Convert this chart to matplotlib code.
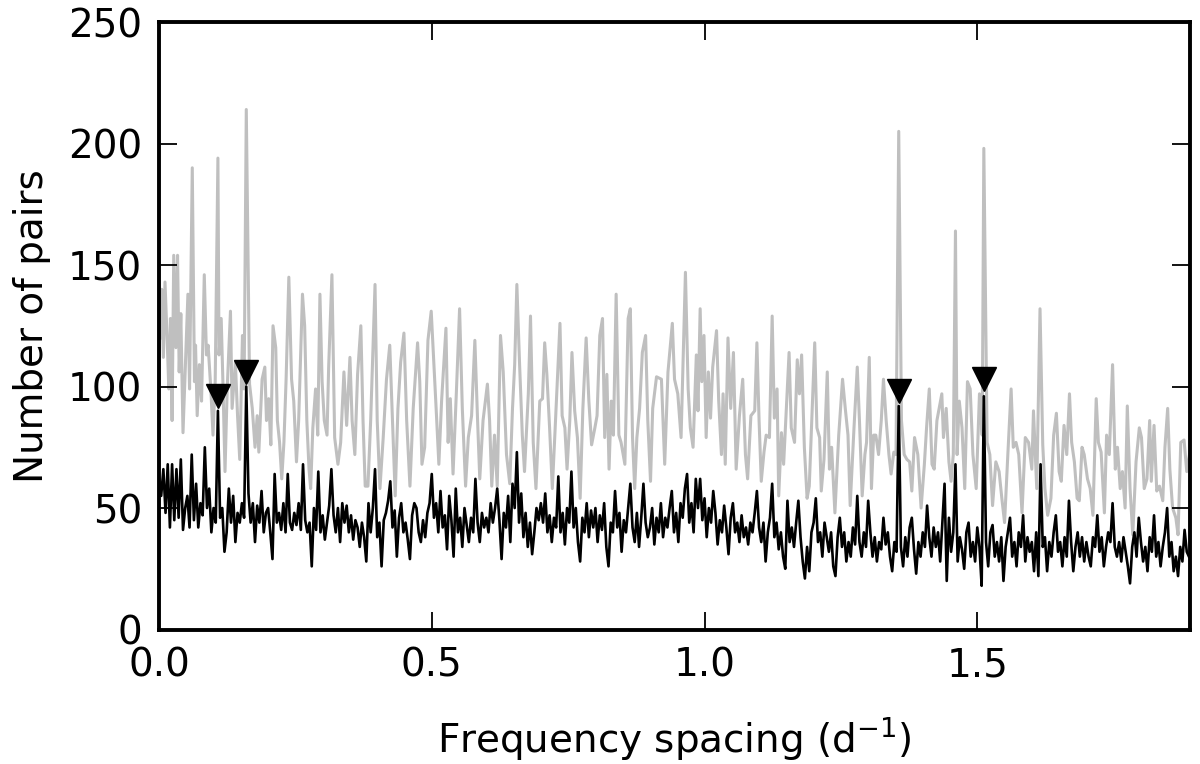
import matplotlib
matplotlib.use('Agg')
import matplotlib.pyplot as plt
import numpy as np

# ---------------- data ----------------
gray_x = [0.002, 0.005, 0.008, 0.011, 0.015, 0.018, 0.021, 0.024, 0.027, 0.031, 0.034, 0.037, 0.040, 0.044, 0.049,
          0.053, 0.056, 0.061, 0.065, 0.067, 0.070, 0.074, 0.078, 0.083, 0.087, 0.090, 0.095, 0.099, 0.103, 0.108,
          0.110, 0.114, 0.117, 0.121, 0.125, 0.131, 0.134, 0.140, 0.144, 0.148, 0.153, 0.156, 0.160, 0.166, 0.171,
          0.176, 0.180, 0.183, 0.189, 0.194, 0.197, 0.201, 0.205, 0.209, 0.214, 0.217, 0.221, 0.225, 0.229, 0.233,
          0.238, 0.243, 0.247, 0.252, 0.256, 0.263, 0.267, 0.271, 0.275, 0.278, 0.282, 0.287, 0.291, 0.295, 0.299,
          0.303, 0.308, 0.311, 0.317,
          0.322, 0.328, 0.333, 0.339, 0.344, 0.350, 0.354, 0.359, 0.364, 0.370, 0.374, 0.378, 0.383, 0.388, 0.396,
          0.400, 0.405, 0.411, 0.417, 0.423, 0.427, 0.433, 0.438, 0.443, 0.449, 0.454, 0.460, 0.466, 0.474, 0.478,
          0.482, 0.487, 0.493, 0.499, 0.504, 0.508, 0.513, 0.518, 0.526, 0.530, 0.534, 0.539, 0.545, 0.551, 0.556,
          0.562, 0.567, 0.573, 0.579, 0.584, 0.588, 0.594, 0.602, 0.606, 0.610, 0.615, 0.620, 0.626, 0.631, 0.637,
          0.643, 0.648, 0.652, 0.656, 0.661, 0.666, 0.670, 0.677, 0.681, 0.686, 0.691, 0.698, 0.703, 0.707, 0.711,
          0.716, 0.721, 0.725, 0.730, 0.735, 0.739, 0.744, 0.748, 0.753, 0.757, 0.762, 0.767, 0.772, 0.777, 0.783,
          0.788, 0.793, 0.799, 0.803, 0.808, 0.813, 0.817, 0.821, 0.825, 0.829, 0.833, 0.838, 0.843, 0.847, 0.854,
          0.860, 0.864, 0.868, 0.872, 0.876, 0.881, 0.886, 0.892, 0.896, 0.901, 0.905, 0.912, 0.921, 0.927, 0.933,
          0.941, 0.945, 0.951, 0.957,
          0.965, 0.970, 0.974, 0.979, 0.985, 0.988, 0.992, 0.995, 0.999, 1.003, 1.007, 1.011, 1.015, 1.022, 1.026,
          1.031, 1.034, 1.038, 1.043, 1.048, 1.053, 1.058, 1.064, 1.070, 1.075, 1.079, 1.085, 1.092, 1.096, 1.100,
          1.104, 1.109, 1.113, 1.119, 1.124, 1.128, 1.133, 1.136, 1.141, 1.145, 1.150, 1.155, 1.159, 1.165, 1.170,
          1.174, 1.178, 1.183, 1.188, 1.192, 1.197, 1.202, 1.206, 1.211, 1.214, 1.219, 1.225, 1.229, 1.233, 1.239,
          1.246, 1.253, 1.258, 1.263, 1.267, 1.274, 1.280,
          1.284, 1.289, 1.294, 1.297, 1.302, 1.306, 1.310, 1.314, 1.319, 1.324, 1.328, 1.333, 1.338, 1.342, 1.347,
          1.351, 1.356, 1.361, 1.366, 1.371, 1.376, 1.380, 1.385, 1.391, 1.397, 1.403, 1.407, 1.412, 1.417, 1.421,
          1.426, 1.430, 1.435, 1.438, 1.443, 1.448, 1.452, 1.456, 1.460, 1.463, 1.467, 1.472, 1.477, 1.482, 1.487,
          1.492, 1.498, 1.504, 1.509, 1.512, 1.518, 1.523, 1.528, 1.534, 1.540, 1.545, 1.550, 1.556, 1.562, 1.566,
          1.571, 1.576, 1.582, 1.588, 1.594, 1.600,
          1.603, 1.609, 1.615, 1.620, 1.624, 1.629, 1.635, 1.640, 1.645, 1.650, 1.654, 1.659, 1.664, 1.669, 1.673,
          1.678, 1.683, 1.687, 1.692, 1.696, 1.702, 1.707, 1.712, 1.718, 1.722, 1.727, 1.733, 1.737, 1.742, 1.748,
          1.753, 1.757, 1.762, 1.766, 1.771, 1.775, 1.780, 1.785, 1.791, 1.797, 1.801, 1.806, 1.811, 1.816, 1.819,
          1.824, 1.829, 1.834, 1.840, 1.844, 1.849, 1.853, 1.858, 1.864, 1.868, 1.873, 1.879, 1.884, 1.889]

gray_y = [120, 140, 112, 143, 119, 99, 128, 86, 154, 116, 154, 106, 130, 81, 113,
          138, 99, 190, 102, 117, 88, 109, 94, 146, 113, 117, 99, 80, 102, 194,
          113, 128, 103, 65, 99, 131, 91, 110, 88, 70, 121, 99, 214, 101, 91,
          75, 88, 73, 103, 108, 86, 95, 76, 125, 116, 86, 77, 62, 77, 103,
          145, 103, 94, 69, 86, 138, 125, 86, 66, 58, 83, 99, 80, 138, 102,
          86, 80, 108, 146,
          79, 68, 77, 106, 84, 112, 86, 72, 105, 125, 86, 59, 59, 86, 142,
          86, 58, 79, 103, 117, 92, 55, 91, 110, 122, 86, 59, 91, 118, 102,
          68, 75, 119, 131, 109, 91, 68, 94, 124, 77, 95, 64, 97, 132, 91,
          59, 79, 88, 119, 86, 62, 86, 101, 86, 59, 80, 59, 121, 106, 72,
          60, 91, 109, 142, 109, 80, 65, 97, 129, 77, 58, 94, 95, 118, 105,
          83, 58, 77, 102, 126, 88, 83, 66, 86, 114, 90, 79, 54, 91, 120,
          94, 76, 83, 88, 121, 128, 79, 105, 66, 94, 80, 138, 80, 77, 68,
          128, 132, 79, 58, 79, 91, 114, 121, 86, 61, 91, 104, 103, 68, 106,
          126, 103, 97, 79,
          147, 99, 83, 75, 113, 90, 132, 102, 121, 79, 106, 87, 108, 123, 94,
          72, 97, 68, 120, 91, 114, 66, 88, 103, 72, 62, 88, 90, 118, 86,
          61, 73, 80, 79, 129, 87, 99, 55, 81, 68, 91, 114, 83, 77, 111,
          97, 113, 75, 54, 59, 88, 118, 83, 79, 57, 70, 106, 66, 75, 48,
          80, 103, 91, 80, 51, 83, 108,
          86, 55, 72, 77, 112, 58, 80, 80, 72, 86, 103, 86, 72, 64, 73,
          72, 205, 86, 72, 70, 69, 57, 79, 72, 50, 68, 83, 99, 68, 66,
          86, 91, 97, 79, 91, 69, 61, 72, 164, 72, 94, 83, 58, 102, 99,
          72, 58, 97, 80, 198, 77, 72, 51, 69, 65, 54, 44, 72, 99, 75,
          77, 72, 48, 79, 77, 66,
          90, 58, 132, 76, 58, 47, 54, 80, 89, 65, 61, 84, 72, 97, 77,
          69, 54, 53, 75, 72, 62, 58, 47, 95, 77, 73, 48, 80, 72, 109,
          66, 75, 58, 65, 50, 92, 58, 39, 69, 83, 79, 58, 62, 86, 61,
          84, 57, 59, 53, 75, 91, 66, 50, 46, 39, 77, 78, 65, 72]

black_step = 0.004  # frequency-bin spacing of the black series
black_y = [62, 55, 66, 48, 68, 42, 68, 45, 66, 46, 70, 41, 50, 55, 42, 72, 45, 60, 42, 52, 47, 75, 50, 58, 40,
           50, 44, 90, 46, 50, 32, 40, 58, 44, 55, 36, 48, 44, 52, 46, 100, 56, 44, 52, 36, 51, 44, 57, 40, 48,
           50, 40, 29, 64, 44, 48, 41, 52, 40, 64, 44, 41, 48, 43, 52, 41, 68, 45, 40, 44, 26, 50, 41, 65, 40,
           47, 37, 44, 51, 66, 47, 40, 50, 36, 52, 44, 51, 40, 47, 37, 45, 42, 34, 44, 38, 28, 52, 40, 50, 66,
           38, 44, 26, 45, 48, 53, 61, 42, 49, 30, 46, 52, 40, 44, 37, 29, 47, 52, 50, 40, 36, 45, 38, 48, 52,
           64, 46, 52, 40, 57, 42, 47, 33, 55, 45, 30, 58, 40, 46, 34, 50, 43, 36, 46, 40, 62, 44, 36, 48, 42,
           46, 40, 52, 44, 50, 58, 45, 29, 48, 42, 55, 36, 60, 50, 73, 44, 56, 38, 48, 34, 44, 31, 40, 50, 45,
           52, 44, 56, 40, 47, 36, 46, 42, 63, 40, 48, 35, 50, 44, 65, 42, 50, 36, 28, 46, 40, 52, 38, 49, 42,
           50, 36, 47, 41, 52, 34, 26, 44, 40, 57, 42, 48, 32, 45, 40, 50, 60, 42, 36, 48, 34, 46, 60, 44, 38,
           42, 50, 35, 46, 40, 52, 38, 46, 42, 50, 57, 40, 48, 36, 52, 46, 58, 64, 44, 52, 40, 62, 50, 62, 45,
           54, 38, 50, 44, 57, 48, 35, 45, 40, 51, 42, 31, 46, 52, 40, 44, 36, 47, 38, 42, 35, 44, 40, 48, 57,
           42, 36, 44, 28, 40, 46, 60, 38, 44, 33, 40, 30, 25, 53, 36, 42, 34, 44, 53, 38, 28, 21, 34, 24, 40,
           44, 54, 36, 40, 30, 44, 38, 32, 40, 26, 22, 38, 46, 34, 40, 28, 36, 30, 42, 35, 55, 36, 30, 40, 34,
           53, 40, 30, 38, 28, 36, 33, 46, 35, 40, 30, 24, 36, 32, 92, 34, 26, 38, 30, 42, 46, 33, 23, 36, 30,
           40, 34, 51, 38, 30, 42, 34, 40, 28, 44, 60, 20, 46, 32, 40, 68, 28, 38, 33, 25, 40, 44, 30, 36, 28,
           42, 34, 18, 96, 36, 26, 40, 43, 30, 36, 28, 38, 20, 34, 40, 46, 30, 36, 26, 40, 34, 47, 28, 38, 32,
           36, 24, 40, 22, 68, 34, 38, 24, 36, 30, 40, 47, 32, 36, 26, 38, 30, 53, 36, 24, 34, 40, 30, 38, 28,
           36, 30, 26, 38, 34, 47, 32, 38, 26, 34, 40, 36, 52, 34, 30, 36, 28, 38, 32, 26, 19, 34, 40, 30, 46,
           36, 28, 34, 24, 38, 32, 47, 30, 36, 26, 34, 40, 50, 30, 36, 24, 30, 22, 34, 28, 41, 32, 30]
black_x = np.arange(len(black_y)) * black_step

marker_x = [0.108, 0.160, 1.356, 1.512]
marker_y = [96, 106, 98, 103]

x_ticks = [0.0, 0.5, 1.0, 1.5]
y_ticks = [0, 50, 100, 150, 200, 250]

# ---------------- plot ----------------
plt.rcParams['font.family'] = 'DejaVu Sans'
plt.rcParams['mathtext.fontset'] = 'dejavusans'

fig = plt.figure(figsize=(12, 7.64), dpi=100)
ax = fig.add_axes([0.1325, 0.176, 0.8592, 0.7952])

ax.plot(gray_x, gray_y, color='0.75', lw=2.2, zorder=1)
ax.plot(black_x, black_y, color='black', lw=1.9, zorder=2)
ax.plot(marker_x, marker_y, linestyle='none', marker='v', color='black', ms=17, zorder=3)

ax.set_xlim(0, 1.89)
ax.set_ylim(0, 250)
ax.set_xticks(x_ticks)
ax.set_yticks(y_ticks)
ax.tick_params(direction='in', length=13, width=1.3, top=True, right=True,
               labelsize=28, pad=12)
for s in ax.spines.values():
    s.set_linewidth(2.8)

ax.set_xlabel('Frequency spacing (d$^{-1}$)', fontsize=28, labelpad=22)
ax.set_ylabel('Number of pairs', fontsize=28, labelpad=12)

fig.savefig('out.png', dpi=100)
